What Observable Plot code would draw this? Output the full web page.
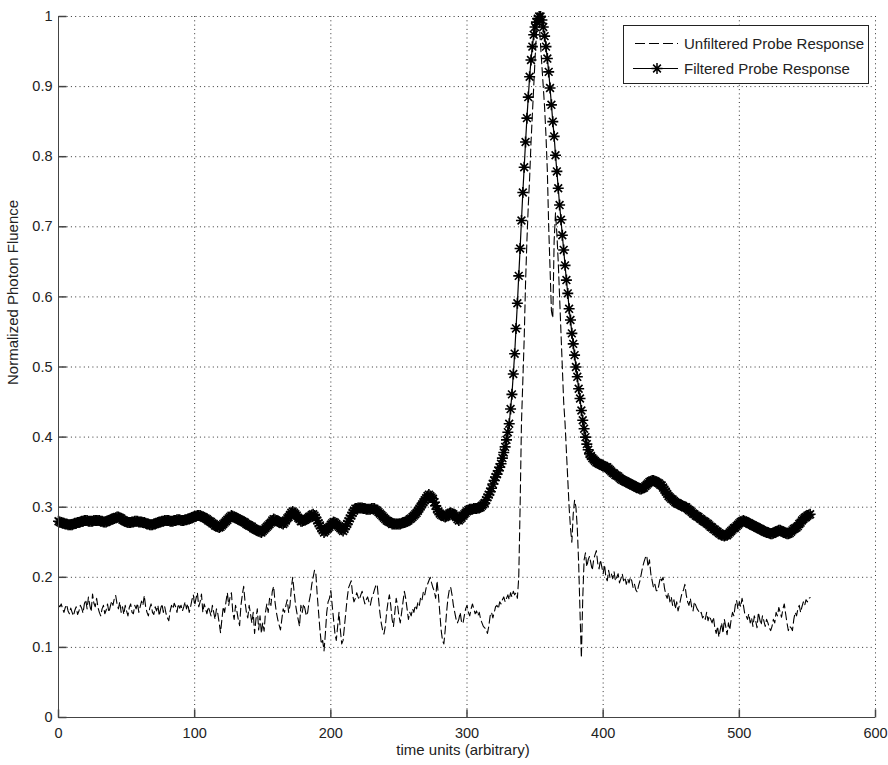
<!DOCTYPE html>
<html><head><meta charset="utf-8">
<script src="https://cdn.jsdelivr.net/npm/d3@7"></script>
<script src="https://cdn.jsdelivr.net/npm/@observablehq/plot@0.6"></script>
<style>body{margin:0;background:#fff}</style>
</head><body><div id="chart"></div>
<script>
const seriesNames = ["Unfiltered Probe Response", "Filtered Probe Response"];
const xTicks = [0, 100, 200, 300, 400, 500, 600];
const yTicks = [0, 0.1, 0.2, 0.3, 0.4, 0.5, 0.6, 0.7, 0.8, 0.9, 1];
const yTickLabels = ["0","0.1","0.2","0.3","0.4","0.5","0.6","0.7","0.8","0.9","1"];
const xLabel = "time units (arbitrary)";
const yLabel = "Normalized Photon Fluence";

const filtered = [
.280,.279,.278,.277,.277,.276,.276,.275,.275,.275,
.275,.276,.277,.277,.278,.278,.279,.280,.280,.281,
.281,.281,.280,.280,.280,.280,.281,.281,.281,.281,
.281,.280,.280,.279,.279,.279,.280,.281,.282,.283,
.283,.284,.285,.286,.286,.285,.284,.282,.281,.280,
.279,.278,.278,.278,.279,.279,.280,.280,.280,.279,
.279,.279,.278,.278,.277,.276,.276,.275,.275,.275,
.276,.276,.277,.278,.279,.279,.280,.280,.281,.281,
.281,.281,.280,.280,.280,.281,.281,.282,.282,.282,
.281,.281,.281,.282,.282,.283,.283,.284,.285,.286,
.287,.287,.288,.288,.288,.287,.286,.285,.284,.283,
.281,.280,.279,.277,.276,.274,.273,.272,.271,.272,
.274,.276,.278,.280,.282,.284,.286,.288,.287,.286,
.285,.284,.283,.282,.281,.280,.279,.278,.276,.275,
.274,.273,.272,.270,.269,.268,.267,.266,.265,.264,
.266,.268,.270,.272,.274,.276,.278,.281,.283,.282,
.281,.280,.279,.278,.277,.276,.278,.281,.284,.286,
.289,.292,.294,.292,.290,.288,.285,.283,.280,.280,
.281,.282,.283,.284,.286,.287,.289,.290,.288,.285,
.281,.277,.274,.270,.267,.264,.266,.268,.270,.272,
.275,.277,.279,.278,.276,.274,.272,.270,.268,.266,
.269,.273,.276,.280,.284,.288,.292,.295,.298,.298,
.299,.299,.299,.299,.298,.298,.297,.297,.297,.297,
.298,.298,.298,.296,.295,.293,.291,.289,.287,.285,
.283,.281,.280,.279,.278,.276,.276,.276,.276,.276,
.276,.276,.277,.278,.278,.279,.280,.281,.283,.284,
.286,.288,.290,.292,.295,.298,.301,.304,.307,.310,
.313,.316,.318,.316,.314,.312,.307,.302,.297,.294,
.291,.289,.288,.287,.286,.287,.289,.291,.292,.291,
.290,.288,.286,.283,.281,.283,.285,.288,.290,.292,
.294,.296,.297,.297,.297,.298,.298,.298,.299,.299,
.300,.302,.304,.306,.310,.314,.318,.322,.327,.333,
.338,.343,.347,.352,.357,.362,.370,.378,.386,.396,
.407,.419,.440,.461,.490,.519,.555,.591,.630,.669,
.709,.749,.785,.821,.855,.885,.914,.938,.957,.974,
.985,.992,.997,1,1,.995,.985,.972,.957,.940,
.921,.898,.874,.850,.829,.802,.779,.755,.731,.710,
.688,.667,.645,.624,.605,.583,.567,.548,.533,.517,
.500,.486,.469,.455,.438,.424,.412,.400,.390,.382,
.376,.373,.370,.368,.366,.364,.363,.362,.361,.360,
.359,.358,.357,.357,.355,.353,.351,.349,.348,.346,
.345,.344,.342,.340,.339,.338,.337,.336,.335,.334,
.333,.332,.331,.330,.329,.328,.327,.326,.326,.327,
.328,.330,.332,.334,.336,.337,.338,.338,.337,.336,
.335,.334,.332,.331,.328,.325,.322,.319,.316,.314,
.312,.311,.309,.307,.306,.305,.304,.303,.302,.301,
.300,.300,.298,.296,.295,.293,.291,.290,.288,.287,
.286,.284,.283,.281,.280,.279,.277,.276,.274,.272,
.271,.269,.268,.266,.265,.263,.262,.260,.260,.259,
.260,.260,.262,.264,.266,.268,.270,.271,.273,.275,
.277,.279,.280,.281,.280,.279,.278,.277,.276,.275,
.274,.273,.272,.271,.270,.269,.268,.267,.266,.265,
.264,.264,.263,.262,.262,.263,.264,.265,.266,.267,
.267,.266,.265,.264,.263,.262,.262,.263,.265,.267,
.269,.270,.271,.273,.276,.278,.281,.283,.285,.286,
.288,.289,.290
];

const unfiltered = [
.160,.158,.162,.155,.150,.157,.161,.152,.148,.156,
.150,.145,.153,.158,.147,.152,.160,.156,.149,.162,
.168,.155,.172,.160,.151,.176,.163,.158,.170,.157,
.150,.145,.155,.160,.148,.153,.162,.150,.158,.166,
.160,.170,.174,.162,.155,.165,.150,.158,.147,.160,
.152,.145,.157,.162,.150,.148,.160,.155,.163,.150,
.158,.166,.160,.174,.158,.150,.145,.156,.162,.150,
.147,.158,.152,.160,.145,.155,.162,.150,.158,.148,
.142,.138,.152,.160,.155,.163,.158,.150,.162,.156,
.160,.152,.158,.165,.155,.162,.150,.158,.168,.175,
.160,.170,.178,.158,.165,.176,.150,.162,.155,.148,
.158,.152,.145,.160,.150,.140,.155,.148,.135,.121,
.140,.158,.150,.165,.178,.160,.172,.178,.150,.140,
.160,.152,.140,.131,.160,.175,.187,.165,.150,.142,
.160,.148,.135,.150,.120,.140,.155,.125,.145,.120,
.135,.123,.150,.162,.150,.170,.160,.180,.187,.165,
.150,.140,.132,.125,.140,.155,.150,.160,.168,.150,
.160,.185,.200,.180,.162,.150,.140,.130,.160,.150,
.162,.155,.145,.150,.165,.175,.190,.200,.210,.205,
.175,.150,.125,.105,.110,.095,.120,.150,.165,.170,
.181,.160,.140,.120,.110,.130,.150,.125,.105,.110,
.130,.150,.170,.185,.190,.195,.175,.165,.170,.178,
.172,.168,.175,.180,.170,.162,.168,.172,.165,.160,
.170,.175,.182,.188,.190,.170,.150,.135,.125,.119,
.130,.150,.165,.175,.160,.140,.130,.150,.170,.160,
.145,.135,.150,.165,.180,.170,.155,.140,.150,.145,
.155,.150,.160,.155,.165,.160,.172,.168,.180,.175,
.185,.190,.195,.200,.192,.185,.180,.170,.195,.175,
.150,.125,.110,.105,.125,.150,.170,.182,.186,.175,
.160,.150,.140,.135,.140,.150,.136,.134,.145,.155,
.160,.150,.145,.155,.162,.155,.148,.152,.145,.150,
.140,.135,.130,.128,.125,.120,.130,.145,.150,.142,
.150,.158,.160,.155,.165,.162,.168,.172,.165,.170,
.175,.168,.178,.172,.180,.175,.178,.170,.200,.300,
.420,.480,.540,.620,.680,.730,.770,.820,.860,.900,
.940,.975,1,.990,.960,.930,.900,.870,.830,.780,
.700,.640,.580,.570,.680,.720,.690,.650,.600,.550,
.500,.450,.420,.380,.340,.300,.270,.250,.290,.310,
.300,.270,.220,.150,.085,.170,.225,.235,.215,.225,
.230,.220,.210,.225,.232,.238,.220,.212,.225,.215,
.205,.218,.200,.195,.210,.200,.205,.198,.208,.195,
.200,.205,.192,.198,.205,.195,.200,.190,.198,.192,
.200,.195,.185,.190,.182,.179,.188,.195,.205,.215,
.222,.228,.231,.215,.225,.205,.195,.185,.190,.181,
.181,.190,.200,.195,.200,.185,.175,.170,.178,.165,
.172,.160,.168,.155,.165,.152,.160,.170,.178,.182,
.190,.175,.165,.160,.170,.158,.152,.165,.160,.155,
.152,.148,.150,.142,.145,.140,.150,.138,.145,.140,
.135,.143,.128,.120,.130,.115,.125,.135,.120,.140,
.130,.118,.135,.125,.140,.150,.145,.160,.167,.155,
.165,.158,.170,.160,.148,.145,.140,.148,.135,.142,
.130,.145,.138,.128,.150,.140,.132,.145,.138,.130,
.140,.135,.128,.124,.130,.140,.135,.150,.145,.157,
.150,.143,.155,.162,.148,.135,.124,.130,.128,.124,
.140,.150,.145,.155,.160,.150,.158,.165,.160,.168,
.165,.170,.171
];

const time = filtered.map((_, i) => i);
const rowsF = time.map((t, i) => ({t, v: filtered[i]}));
const rowsU = time.map((t, i) => ({t, v: unfiltered[i]}));

const starSymbol = {draw(ctx) {
  const r = 5.5, d = r * 0.7071;
  ctx.moveTo(-r, 0); ctx.lineTo(r, 0);
  ctx.moveTo(0, -r); ctx.lineTo(0, r);
  ctx.moveTo(-d, -d); ctx.lineTo(d, d);
  ctx.moveTo(-d, d); ctx.lineTo(d, -d);
}};
const tickRight = {draw(ctx) { ctx.moveTo(0, 0); ctx.lineTo(8, 0); }};
const tickUp = {draw(ctx) { ctx.moveTo(0, 0); ctx.lineTo(0, -8); }};

const font = "'Liberation Sans', Arial, Helvetica, sans-serif";
const ink = "#222";

const svg = Plot.plot({
  width: 888, height: 765,
  marginLeft: 58, marginRight: 13, marginTop: 16, marginBottom: 48,
  style: {fontFamily: font, fontSize: "14.5px", color: ink, background: "#fff"},
  x: {domain: [0, 600]},
  y: {domain: [0, 1]},
  marks: [
    Plot.gridX(xTicks, {stroke: "#333", strokeOpacity: 1, strokeWidth: 1, strokeDasharray: "1,3.3"}),
    Plot.gridY(yTicks, {stroke: "#333", strokeOpacity: 1, strokeWidth: 1, strokeDasharray: "1,3.3"}),
    Plot.line(rowsU, {x: "t", y: "v", stroke: "#000", strokeWidth: 1.1, strokeDasharray: "8,4"}),
    Plot.line(rowsF, {x: "t", y: "v", stroke: "#000", strokeWidth: 1.2}),
    Plot.dot(rowsF, {x: "t", y: "v", symbol: starSymbol, stroke: "#000", strokeWidth: 1.6, fill: "none"}),
    Plot.ruleX([0], {stroke: "#444", strokeWidth: 1}),
    Plot.ruleY([0], {stroke: "#444", strokeWidth: 1}),
    Plot.dot(yTicks, {x: 0, y: d => d, symbol: tickRight, stroke: "#444", fill: "none"}),
    Plot.dot(xTicks, {x: d => d, y: 0, symbol: tickUp, stroke: "#444", fill: "none"}),
    Plot.axisY(yTicks, {tickSize: 0, tickPadding: 6, tickFormat: (d, i) => yTickLabels[i], label: null, fill: ink}),
    Plot.axisX(xTicks, {tickSize: 0, tickPadding: 10, label: null, fill: ink}),
    Plot.text([yLabel], {frameAnchor: "left", rotate: -90, lineAnchor: "middle", dx: -45, dy: 18, fill: ink, fontSize: 15}),
    Plot.text([xLabel], {frameAnchor: "bottom", lineAnchor: "middle", dx: -4, dy: 33, fill: ink, fontSize: 15})
  ]
});

// legend box
const g = d3.select(svg).append("g").attr("font-family", font).attr("font-size", 15)
  .attr("fill", ink).attr("text-anchor", "start");
g.append("rect").attr("x", 623.5).attr("y", 25.5).attr("width", 245).attr("height", 58)
  .attr("fill", "#fff").attr("stroke", "#222").attr("stroke-width", 1);
g.append("line").attr("x1", 635).attr("x2", 678).attr("y1", 43.5).attr("y2", 43.5)
  .attr("stroke", "#000").attr("stroke-dasharray", "10,4");
g.append("line").attr("x1", 633).attr("x2", 678).attr("y1", 68.5).attr("y2", 68.5)
  .attr("stroke", "#000");
g.append("path").attr("transform", "translate(657,68.5)")
  .attr("d", d3.symbol(starSymbol)()).attr("stroke", "#000").attr("stroke-width", 1.5).attr("fill", "none");
g.append("text").attr("x", 684).attr("y", 43.5).attr("dy", "0.35em").attr("text-anchor", "start").text(seriesNames[0]);
g.append("text").attr("x", 684).attr("y", 68.5).attr("dy", "0.35em").attr("text-anchor", "start").text(seriesNames[1]);

document.getElementById("chart").appendChild(svg);
</script>
</body></html>
